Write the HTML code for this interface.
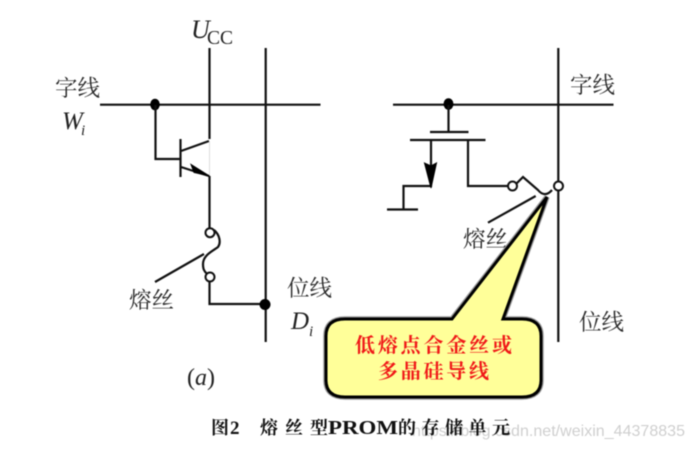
<!DOCTYPE html>
<html>
<head>
<meta charset="utf-8">
<style>
html,body{margin:0;padding:0;background:#fff;width:695px;height:449px;overflow:hidden}
svg{display:block;filter:blur(0.4px)}
.cjk{font-family:"Liberation Serif","Noto Serif CJK SC",serif;font-size:22.500px;fill:#2a2a2a}
.it{font-family:"Liberation Serif",serif;font-style:italic;fill:#222}
.l{stroke:#111;stroke-width:2.200;fill:none}
.cap{font-family:"Liberation Serif","Noto Serif CJK SC",serif;font-weight:700;fill:#111}
.red{font-family:"Liberation Serif","Noto Serif CJK SC",serif;font-size:20px;font-weight:700;fill:#f01818}
</style>
</head>
<body>
<svg width="695" height="449" viewBox="0 0 695 449" xmlns="http://www.w3.org/2000/svg">
<!-- Left circuit -->
<path class="l" d="M100 104.700H320.500M209.500 48V139M265.700 48V342M209.500 176V228M209.500 281V304H265"/>
<ellipse cx="155" cy="104.500" rx="4.800" ry="5.800" fill="#000"/>
<path class="l" d="M155.500 105V159H180M180.500 139V177M181 151L209 141M181 167L209 176"/>
<path d="M209.500 141V176" stroke="#ddd" stroke-width="1"/>
<path d="M209.500 176L191 164.500L194 172.500Z" fill="#000" stroke="#000"/>
<circle cx="210" cy="232.700" r="4.500" fill="#fff" stroke="#111" stroke-width="2"/>
<circle cx="210" cy="277" r="4.500" fill="#fff" stroke="#111" stroke-width="2"/>
<path class="l" d="M214 230C220 235 221 243 218 247C213 251 203 255 203 264C203 269 204 271 207 274M155 282L204 254"/>
<circle cx="265" cy="304.500" r="5.500" fill="#000"/>

<text class="it" x="191" y="38" font-size="26">U</text>
<text x="207" y="44" font-family="Liberation Serif,serif" font-size="19.500" fill="#222">CC</text>
<text class="cjk" x="55" y="96">字线</text>
<text class="it" x="62" y="129" font-size="25">W</text>
<text class="it" x="81" y="135" font-size="15">i</text>
<text class="cjk" x="129" y="308">熔丝</text>
<text class="cjk" x="287" y="296">位线</text>
<text class="it" x="291" y="329" font-size="25">D</text>
<text class="it" x="309" y="336" font-size="15">i</text>
<text x="187" y="385" font-family="Liberation Serif,serif" font-size="24" fill="#222">(<tspan font-style="italic">a</tspan>)</text>

<!-- Right circuit -->
<path class="l" d="M393 104.700H613.500M558.300 48V342"/>
<ellipse cx="448.500" cy="104" rx="5" ry="5.800" fill="#000"/>
<path class="l" d="M448.500 105V132M430 132H468.500M410 140H485.500M431 140V186H403.500V210M387 209.500H418M468 140V186H508"/>
<path d="M431 188L424.500 163L431 166L436.500 163Z" fill="#000" stroke="#000"/>
<circle cx="512.500" cy="186" r="4.500" fill="#fff" stroke="#111" stroke-width="2"/>
<circle cx="558.500" cy="186" r="4.500" fill="#fff" stroke="#111" stroke-width="2"/>
<path class="l" d="M516 184L523 177L538 190C542 195 547 196 552 190M488 222.700L535.700 196"/>
<text class="cjk" x="570" y="93">字线</text>
<text class="cjk" x="463" y="247">熔丝</text>
<text class="cjk" x="579" y="330">位线</text>

<!-- Callout -->
<path id="c" d="M452 319L547 197L503 319H522Q541 319 541 336V380Q541 397 522 397H345Q326 397 326 380V336Q326 319 345 319Z" fill="#ffff99" stroke="#999" stroke-width="5.500" stroke-linejoin="miter"/>
<path d="M452 319L547 197L503 319H522Q541 319 541 336V380Q541 397 522 397H345Q326 397 326 380V336Q326 319 345 319Z" fill="#ffff99" stroke="#000" stroke-width="3" stroke-linejoin="miter"/>
<text class="red" x="355" y="352" textLength="157">低熔点合金丝或</text>
<text class="red" x="378" y="378" textLength="111">多晶硅导线</text>

<!-- Caption -->
<text x="412" y="436" font-family="Liberation Sans,sans-serif" font-size="16" fill="#cfcfcf" textLength="273">https://blog.csdn.net/weixin_44378835</text>
<text class="cap" x="211" y="434" font-size="18">图</text>
<text class="cap" x="230" y="434" font-size="19">2</text>
<text class="cap" x="260" y="434" font-size="18" textLength="68">熔丝型</text>
<text class="cap" x="328" y="434" font-size="20" textLength="70" lengthAdjust="spacingAndGlyphs">PROM</text>
<text class="cap" x="398" y="434" font-size="18" textLength="112">的存储单元</text>
</svg>
</body>
</html>
